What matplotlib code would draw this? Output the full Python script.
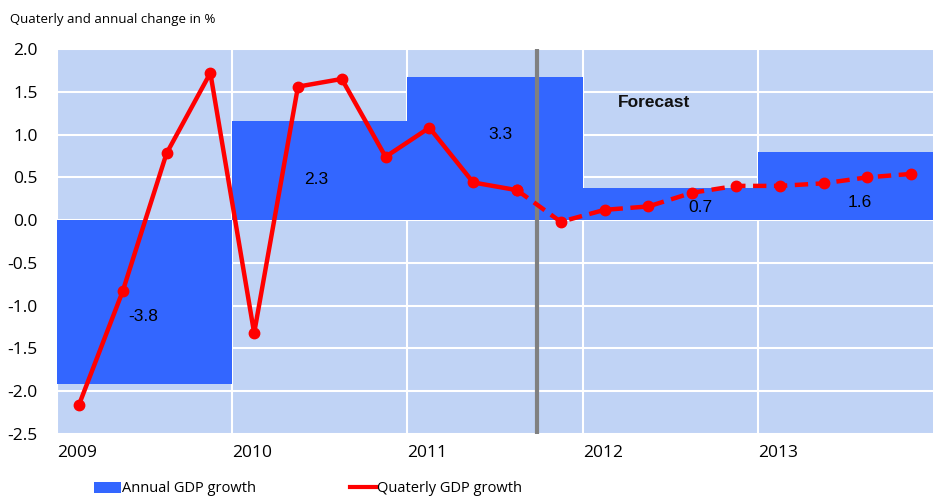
import matplotlib
matplotlib.use("Agg")
import matplotlib.pyplot as plt
from matplotlib.patches import Patch
from matplotlib.lines import Line2D

years = [2009, 2010, 2011, 2012, 2013]
annual_bar = [-1.92, 1.16, 1.67, 0.37, 0.80]
annual_labels = ["-3.8", "2.3", "3.3", "0.7", "1.6"]
label_pos_x = [2009.49, 2010.48, 2011.53, 2012.67, 2013.58]
label_pos_y = [-1.13, 0.47, 1.00, 0.15, 0.21]

quarterly = [-2.16, -0.83, 0.78, 1.72,
             -1.32, 1.56, 1.65, 0.74,
             1.08, 0.44, 0.35, -0.02,
             0.12, 0.16, 0.32, 0.40,
             0.40, 0.43, 0.50, 0.54]
q_x = [y + 0.125 + 0.25 * k for y in years for k in range(4)]
n_actual = 11  # solid through 2011 Q3
forecast_start = 2011.74

bar_color = "#3366ff"
bg_color = "#c0d3f5"
red = "#ff0000"

plt.rcParams['font.family'] = ['Open Sans', 'DejaVu Sans']

fig = plt.figure(figsize=(9.35, 5.0), dpi=100)
ax = fig.add_axes([0.061, 0.132, 0.937, 0.770])
ax.set_facecolor(bg_color)

ax.bar(years, annual_bar, width=1.0, align='edge', color=bar_color, zorder=2)
for x, y, t in zip(label_pos_x, label_pos_y, annual_labels):
    ax.text(x, y, t, ha='center', va='center', fontsize=12.5,
            family='Liberation Sans', color='black', zorder=5)

ax.axvline(forecast_start, color='#808080', lw=3, zorder=3)
ax.text(2012.41, 1.37, "Forecast", ha='center', va='center', fontsize=12.5,
        family='Liberation Sans', fontweight='bold', color='#111111', zorder=5)

ax.plot(q_x[:n_actual], quarterly[:n_actual], color=red, lw=3.2, marker='o',
        ms=7.5, zorder=4, solid_capstyle='round')
ax.plot(q_x[n_actual - 1:], quarterly[n_actual - 1:], color=red, lw=3.2,
        ls=(0, (3, 1.7)), marker='o', ms=7.5, zorder=4)

ax.set_xlim(2009, 2014)
ax.set_ylim(-2.5, 2.0)
ax.set_yticks([2.0, 1.5, 1.0, 0.5, 0.0, -0.5, -1.0, -1.5, -2.0, -2.5])
ax.set_yticklabels(["2.0", "1.5", "1.0", "0.5", "0.0", "-0.5", "-1.0", "-1.5", "-2.0", "-2.5"])
ax.set_xticks(years)
ax.set_xticklabels([str(y) for y in years])
for lbl in ax.get_xticklabels():
    lbl.set_horizontalalignment('left')
ax.tick_params(axis='both', length=0, labelsize=12.5)
ax.tick_params(axis='y', pad=14)
ax.tick_params(axis='x', pad=8)
ax.grid(True, color='white', lw=1.5, zorder=1)
ax.set_axisbelow(True)
for s in ax.spines.values():
    s.set_visible(False)

fig.text(0.011, 0.962, "Quaterly and annual change in %", fontsize=9.5,
         ha='left', va='center')

handles = [Patch(facecolor=bar_color, edgecolor='none'),
           Line2D([0], [0], color=red, lw=3)]
fig.legend(handles, ["Annual GDP growth", "Quaterly GDP growth"],
           loc='center left', bbox_to_anchor=(0.087, 0.022), ncol=2,
           frameon=False, fontsize=10.5, handlelength=1.8, handleheight=0.7,
           handletextpad=0.1, columnspacing=6.4)

fig.savefig("out.png", dpi=100)
